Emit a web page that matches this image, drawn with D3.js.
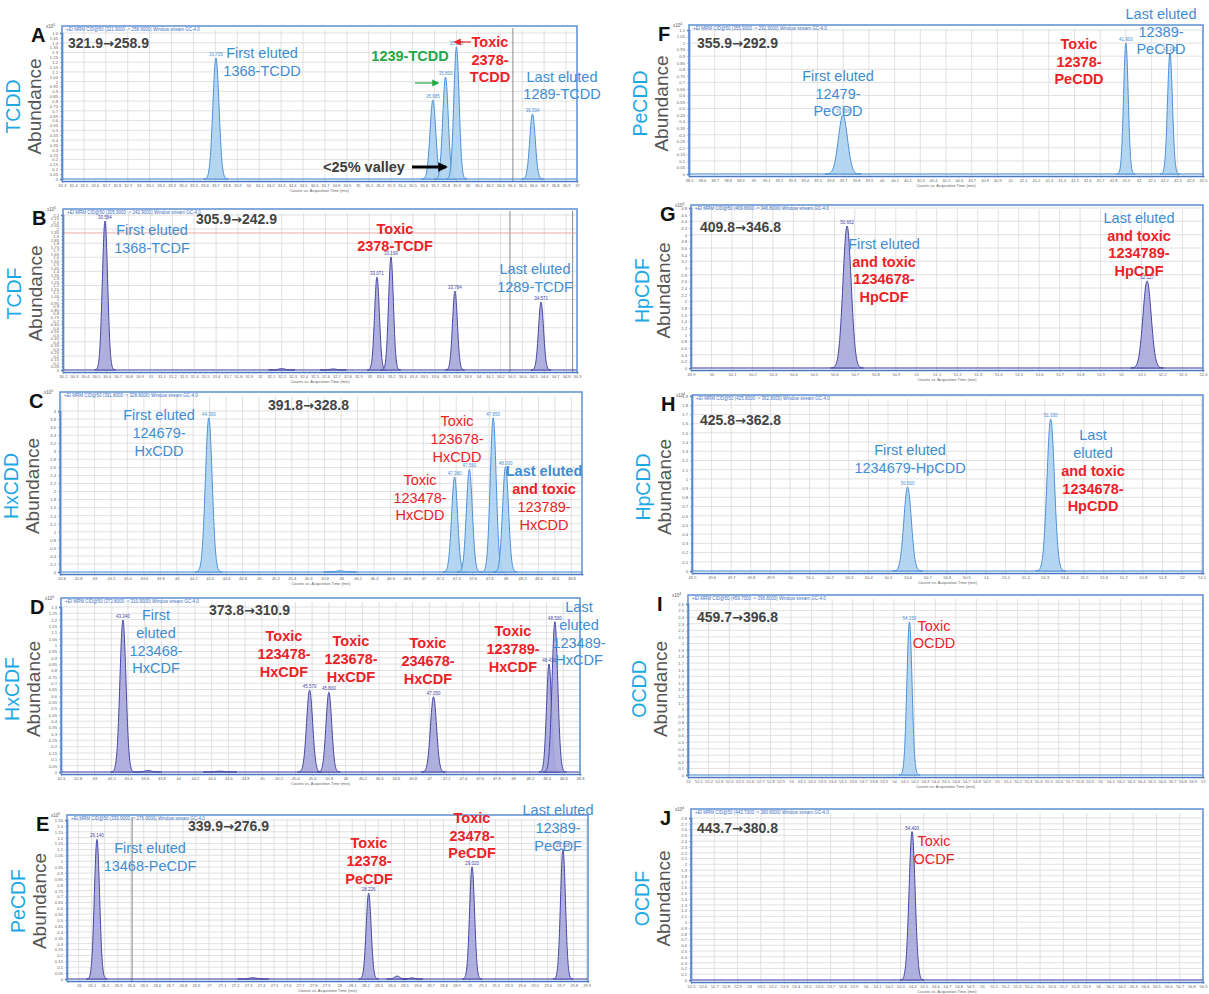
<!DOCTYPE html>
<html>
<head>
<meta charset="utf-8">
<script src="https://cdn.jsdelivr.net/npm/d3@7"></script>
<style>
  body { margin: 0; background: #fff; }
  svg { display: block; font-family: "Liberation Sans", Arial, sans-serif; }
</style>
</head>
<body>
<svg id="fig" width="1209" height="994"></svg>
<script>
// ---- data ----
const panelIds = ["A","B","C","D","E","F","G","H","I","J"];
const compoundClass = ["TCDD","TCDF","HxCDD","HxCDF","PeCDF","PeCDD","HpCDF","HpCDD","OCDD","OCDF"];
const transitions = ["321.9→258.9","305.9→242.9","391.8→328.8","373.8→310.9","339.9→276.9",
                     "355.9→292.9","409.8→346.8","425.8→362.8","459.7→396.8","443.7→380.8"];
const isFuran = [false,true,false,true,true,false,true,false,false,true];

// acquisition time axis (min)
const timeDomains = [[32.3,37.0],[30.2,34.9],[42.58,48.93],[42.6,48.8],[25.91,29.91],
                     [38.5,42.5],[49.9,52.4],[49.5,52.107],[52.0,57.0],[52.5,56.9]];
const timeTickSteps = [0.1,0.1,0.2,0.2,0.1,0.1,0.1,0.1,0.1,0.1];
const timeGridEvery = [2,2,1,1,1,2,1,1,2,2];

// abundance axis
const abundTopTicks = [1.5,2.2,4,1.3,1.35,1.1,4.8,1.9,2.6,2.8];
const abundTickSteps = [0.05,0.05,0.2,0.05,0.05,0.05,0.2,0.1,0.1,0.1];
const abundGridEvery = [2,4,1,1,1,2,2,1,1,1];
const exponents = [5,5,5,5,5,4,4,4,4,4];

// peaks: [retention time, abundance, width sigma]
const peaksA = [[33.705,1.243,0.028],[35.685,0.812,0.026],[35.80,1.048,0.025],[35.90,1.356,0.024],[36.594,0.668,0.025]];
const peaksB = [[30.584,2.115,0.024],[32.20,0.02,0.03],[32.67,0.015,0.03],[33.071,1.32,0.022],[33.199,1.604,0.022],[33.784,1.121,0.022],[34.571,0.965,0.023]];
const peaksC = [[44.39,3.83,0.041],[45.99,0.03,0.05],[47.38,2.36,0.036],[47.56,2.55,0.036],[47.85,3.83,0.036],[48.0,2.62,0.036]];
const peaksD = [[43.34,1.198,0.036],[43.64,0.012,0.04],[44.5,0.006,0.05],[45.57,0.646,0.036],[45.80,0.628,0.034],[47.05,0.593,0.036],[48.43,0.85,0.03],[48.50,1.184,0.034]];
const peaksE = [[26.14,1.185,0.02],[27.338,0.01,0.03],[28.226,0.729,0.019],[28.444,0.025,0.02],[28.56,0.01,0.02],[29.02,0.953,0.019],[29.718,1.102,0.019]];
const peaksF = [[39.698,0.451,0.035],[41.90,1.0,0.018],[42.243,0.924,0.019]];
const peaksG = [[50.662,4.26,0.02],[52.127,2.61,0.02]];
const peaksH = [[50.60,0.912,0.019],[51.33,1.65,0.019]];
const peaksI = [[54.15,2.326,0.025]];
const peaksJ = [[54.40,2.565,0.026]];
const peakSets = [peaksA,peaksB,peaksC,peaksD,peaksE,peaksF,peaksG,peaksH,peaksI,peaksJ];

// grey cursor lines (time) and red level line (abundance)
const cursorTimes = [[36.415],[34.287,34.86],[],[],[26.41],[],[],[],[],[]];
const levelLines = [[],[1.945],[],[],[],[],[],[],[],[]];

// annotations: [panel, x, y, text, colour, bold]
const annotations = [
  [0,262,53,"First eluted","blue",0],[0,262,71,"1368-TCDD","blue",0],
  [0,410,56,"1239-TCDD","green",1],
  [0,490,42,"Toxic","red",1],[0,490,60,"2378-","red",1],[0,490,77,"TCDD","red",1],
  [0,562,77,"Last eluted","blue",0],[0,562,94,"1289-TCDD","blue",0],
  [0,364,167,"<25% valley","dark",1],
  [1,152,230,"First eluted","blue",0],[1,152,248,"1368-TCDF","blue",0],
  [1,395,229,"Toxic","red",1],[1,395,246,"2378-TCDF","red",1],
  [1,535,269,"Last eluted","blue",0],[1,535,287,"1289-TCDF","blue",0],
  [2,159,415,"First eluted","blue",0],[2,159,433,"124679-","blue",0],[2,159,451,"HxCDD","blue",0],
  [2,457,421,"Toxic","red",0],[2,457,439,"123678-","red",0],[2,457,457,"HxCDD","red",0],
  [2,420,480,"Toxic","red",0],[2,420,498,"123478-","red",0],[2,420,515,"HxCDD","red",0],
  [2,544,471,"Last eluted","blue",1],[2,544,489,"and toxic","red",1],[2,544,507,"123789-","red",0],[2,544,525,"HxCDD","red",0],
  [3,156,615,"First","blue",0],[3,156,633,"eluted","blue",0],[3,156,651,"123468-","blue",0],[3,156,668,"HxCDF","blue",0],
  [3,284,636,"Toxic","red",1],[3,284,654,"123478-","red",1],[3,284,672,"HxCDF","red",1],
  [3,351,641,"Toxic","red",1],[3,351,659,"123678-","red",1],[3,351,677,"HxCDF","red",1],
  [3,428,643,"Toxic","red",1],[3,428,661,"234678-","red",1],[3,428,679,"HxCDF","red",1],
  [3,513,631,"Toxic","red",1],[3,513,649,"123789-","red",1],[3,513,667,"HxCDF","red",1],
  [3,579,607,"Last","blue",0],[3,579,625,"eluted","blue",0],[3,579,643,"123489-","blue",0],[3,579,660,"HxCDF","blue",0],
  [4,150,848,"First eluted","blue",0],[4,150,866,"13468-PeCDF","blue",0],
  [4,369,843,"Toxic","red",1],[4,369,861,"12378-","red",1],[4,369,879,"PeCDF","red",1],
  [4,472,818,"Toxic","red",1],[4,472,836,"23478-","red",1],[4,472,853,"PeCDF","red",1],
  [4,558,810,"Last eluted","blue",0],[4,558,828,"12389-","blue",0],[4,558,846,"PeCDF","blue",0],
  [5,838,76,"First eluted","blue",0],[5,838,94,"12479-","blue",0],[5,838,111,"PeCDD","blue",0],
  [5,1079,44,"Toxic","red",1],[5,1079,62,"12378-","red",1],[5,1079,79,"PeCDD","red",1],
  [5,1161,14,"Last eluted","blue",0],[5,1161,32,"12389-","blue",0],[5,1161,49,"PeCDD","blue",0],
  [6,884,244,"First eluted","blue",0],[6,884,262,"and toxic","red",1],[6,884,279,"1234678-","red",1],[6,884,297,"HpCDF","red",1],
  [6,1139,218,"Last eluted","blue",0],[6,1139,236,"and toxic","red",1],[6,1139,253,"1234789-","red",1],[6,1139,271,"HpCDF","red",1],
  [7,910,450,"First eluted","blue",0],[7,910,468,"1234679-HpCDD","blue",0],
  [7,1093,435,"Last","blue",0],[7,1093,453,"eluted","blue",0],[7,1093,471,"and toxic","red",1],[7,1093,489,"1234678-","red",1],[7,1093,506,"HpCDD","red",1],
  [8,934,626,"Toxic","red",0],[8,934,643,"OCDD","red",0],
  [9,934,841,"Toxic","red",0],[9,934,859,"OCDF","red",0]
];
// arrows: [x1, y1, x2, y2, colour, width]
const arrows = [[415,83,438,83,"green",1.2],[471,42,455,42,"red",1.2],[412,167,446,167,"black",3]];

// ---- layout ----
const boxes = [[62,26,577,179],[63,209,577,370],[60,392,582,572],[61,598,580,772],[67,815,588,979],
               [689,25,1203,174],[691,205,1203,368],[692,395,1203,571],[688,595,1203,775],[691,809,1203,980]];
const topTickPx = [33,215,411,607,820,30,208,396,604,818];
const colors = {blue:"#3f8dd2", red:"#ec2227", green:"#23a847", dark:"#3c3c3c", black:"#000"};
const classColor = "#1ea8e3";

const svg = d3.select("svg#fig");
const defs = svg.append("defs");
["green","red","black"].forEach(c => {
  defs.append("marker").attr("id","arr-"+c)
    .attr("viewBox","0 0 10 10").attr("refX",8).attr("refY",5)
    .attr("markerWidth",c=="black"?3.2:6).attr("markerHeight",c=="black"?3.2:6)
    .attr("orient","auto-start-reverse")
    .append("path").attr("d","M0,0 L10,5 L0,10 z").attr("fill",colors[c]);
});

const fmt = v => String(+v.toFixed(2));

function steps(d0, d1, step) {
  let first = Math.ceil(d0/step - 1e-6)*step;
  return d3.range(first, d1 + 1e-9, step).map(v => +v.toFixed(3));
}

panelIds.forEach((id, i) => {
  const [L, T, R, B] = boxes[i];
  const g = svg.append("g");
  const x = d3.scaleLinear().domain(timeDomains[i]).range([L, R]);
  const y = d3.scaleLinear().domain([0, abundTopTicks[i]]).range([B, topTickPx[i]]);
  const xt = steps(timeDomains[i][0], timeDomains[i][1], timeTickSteps[i]);
  const yt = steps(0, abundTopTicks[i], abundTickSteps[i]);

  // grid
  g.append("g").selectAll("line").data(xt.filter((d,k) => k % timeGridEvery[i] == 0)).join("line")
    .attr("x1", d => x(d)).attr("x2", d => x(d)).attr("y1", T+4).attr("y2", B+2)
    .attr("stroke","#d9d9d9").attr("stroke-width",0.8);
  g.append("g").selectAll("line").data(yt.filter((d,k) => k % abundGridEvery[i] == 0)).join("line")
    .attr("x1", L).attr("x2", R).attr("y1", d => y(d)).attr("y2", d => y(d))
    .attr("stroke","#d9d9d9").attr("stroke-width",0.8);

  cursorTimes[i].forEach(t => g.append("line").attr("x1",x(t)).attr("x2",x(t)).attr("y1",T+2).attr("y2",B+2)
    .attr("stroke","#8a8a8a").attr("stroke-width",1));
  levelLines[i].forEach(v => g.append("line").attr("x1",L).attr("x2",R).attr("y1",y(v)).attr("y2",y(v))
    .attr("stroke","#e6a3a3").attr("stroke-width",0.9));

  // trace
  const fill = isFuran[i] ? "#a7a7dc" : "#add1f0";
  const line = isFuran[i] ? "#4747a6" : "#4a92d8";
  g.append("line").attr("x1",L).attr("x2",R).attr("y1",y(0)).attr("y2",y(0))
    .attr("stroke",line).attr("stroke-width",1);
  const area = d3.area().x(d => x(d[0])).y0(y(0)).y1(d => y(d[1])).curve(d3.curveMonotoneX);
  const shape = p => d3.range(-4, 4.01, 0.25).map(k => [p[0] + k*p[2], p[1]*Math.exp(-0.5*k*k)]);
  g.append("g").selectAll("path").data(peakSets[i]).join("path")
    .attr("d", p => area(shape(p)))
    .attr("fill", fill).attr("fill-opacity",0.9)
    .attr("stroke", line).attr("stroke-width",1);
  // tiny retention-time labels
  g.append("g").selectAll("text").data(peakSets[i].filter(p => p[1] > abundTopTicks[i]*0.2)).join("text")
    .attr("x", p => x(p[0])).attr("y", p => y(p[1]) - 2)
    .attr("text-anchor","middle").attr("font-size",4.5).attr("fill",line)
    .text(p => p[0].toFixed(3));

  // axes
  const ax = g.append("g").attr("transform",`translate(0,${B+2})`)
    .call(d3.axisBottom(x).tickValues(xt).tickSize(1.5).tickPadding(1.5).tickFormat(fmt));
  ax.selectAll("text").attr("font-size",4).attr("fill","#666");
  const ay = g.append("g").attr("transform",`translate(${L},0)`)
    .call(d3.axisLeft(y).tickValues(yt).tickSize(2).tickPadding(2).tickFormat(fmt));
  ay.selectAll("text").attr("font-size",4.2).attr("fill","#666");
  [ax, ay].forEach(a => {
    a.select(".domain").attr("stroke","#4a78c4").attr("stroke-width",1.6);
    a.selectAll(".tick line").attr("stroke","#777").attr("stroke-width",0.5);
  });
  g.append("text").attr("x",(L+R)/2).attr("y",B+13).attr("text-anchor","middle")
    .attr("font-size",4).attr("fill","#666").text("Counts vs. Acquisition Time (min)");

  // frame
  g.append("path").attr("d",`M${L},${B+2}V${T}H${R}V${B+2}`)
    .attr("fill","none").attr("stroke","#5d8fd4").attr("stroke-width",1.5);
  const [q1, q3] = transitions[i].split("→");
  g.append("text").attr("x",L+4).attr("y",T+5).attr("font-size",4.5).attr("fill","#3d6fbf")
    .text(`+EI MRM CID@50 (${q1}000 -> ${q3}000) Window stream GC-4.0`);
  g.append("text").attr("x",L-16).attr("y",T+2).attr("font-size",4.5).attr("fill","#555")
    .text("x10").append("tspan").attr("dy",-2).attr("font-size",3.5).text(exponents[i]);

  // panel letter and MRM transition
  g.append("text").attr("x",L-31).attr("y",T+16).attr("font-size",20).attr("font-weight","bold")
    .attr("fill","#111").text(id);
  const trX = [68,196,268,209,188,697,700,700,697,697][i];
  const trY = [43,219,405,610,826,43,227,420,617,828][i];
  const tr = g.append("text").attr("x",trX).attr("y",trY).attr("dy","0.35em").attr("font-size",14)
    .attr("font-weight","bold").attr("fill","#444");
  tr.append("tspan").text(q1);
  tr.append("tspan").attr("font-family","'DejaVu Sans'").attr("font-size",13).text("→");
  tr.append("tspan").text(q3);

  // y-axis titles
  const cy = (T + B) / 2 + 4;
  const cx = L - 42;
  g.append("text").attr("transform",`translate(${cx},${cy}) rotate(-90)`).attr("text-anchor","middle")
    .attr("font-size",19.5).attr("fill",classColor).text(compoundClass[i]);
  g.append("text").attr("transform",`translate(${cx+21},${cy}) rotate(-90)`).attr("text-anchor","middle")
    .attr("font-size",19).attr("fill","#555").text("Abundance");
});

// annotations
svg.append("g").selectAll("text").data(annotations).join("text")
  .attr("x", d => d[1]).attr("y", d => d[2]).attr("dy","0.36em")
  .attr("text-anchor","middle").attr("font-size",14.5)
  .attr("font-weight", d => d[5] ? "bold" : "normal")
  .attr("fill", d => colors[d[4]]).text(d => d[3]);

svg.append("g").selectAll("line").data(arrows).join("line")
  .attr("x1", d => d[0]).attr("y1", d => d[1]).attr("x2", d => d[2]).attr("y2", d => d[3])
  .attr("stroke", d => colors[d[4]]).attr("stroke-width", d => d[5])
  .attr("marker-end", d => `url(#arr-${d[4]})`);
</script>
</body>
</html>
